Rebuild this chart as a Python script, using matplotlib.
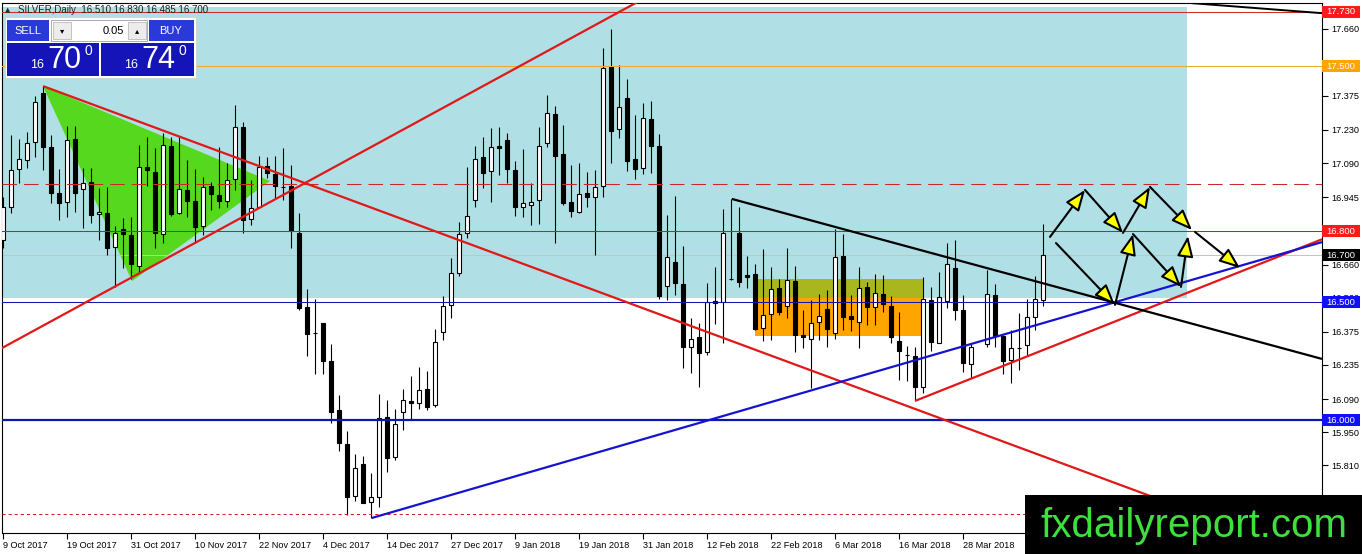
import matplotlib
matplotlib.use('Agg')
import matplotlib.pyplot as plt
from matplotlib.patches import Rectangle, Polygon, FancyArrowPatch
import matplotlib.transforms as mtransforms
import numpy as np

plt.rcParams['font.family'] = ['Liberation Sans', 'DejaVu Sans']
plt.rcParams['lines.scale_dashes'] = False

W, H, DPI = 1362, 554, 100
nan = float('nan')

# ---------------- data (daily OHLC, SILVER) ----------------
open_ = [16.764, 16.904, 17.065, 17.103, 17.179, 17.387, 17.158, 16.963, 16.925, 17.192,
         16.980, 17.010, 16.874, 16.878, 16.734, 16.811, 16.785, 16.654, 17.073, 17.052,
         16.789, 17.162, 16.878, 16.976, 16.929, 16.823, 16.993, 16.955, 16.929, 17.023,
         17.243, 16.853, 16.904, 17.078, 17.044, 16.989, 16.993, 16.794, 16.480, 16.370,
         16.412, 16.251, 16.044, 15.900, 15.679, 15.815, 15.654, 15.675, 16.014, 15.844,
         16.035, 16.082, 16.073, 16.133, 16.065, 16.374, 16.489, 16.624, 16.794, 16.934,
         17.116, 17.056, 17.162, 17.188, 17.061, 16.904, 16.912, 16.934, 17.175, 17.298,
         17.128, 16.925, 16.883, 16.963, 16.946, 16.993, 17.497, 17.234, 17.366, 17.107,
         17.069, 17.277, 17.162, 16.569, 16.671, 16.578, 16.311, 16.353, 16.289, 16.497,
         16.501, 16.600, 16.794, 16.616, 16.620, 16.391, 16.451, 16.561, 16.484, 16.590,
         16.361, 16.345, 16.417, 16.472, 16.370, 16.696, 16.442, 16.417, 16.565, 16.480,
         16.535, 16.484, 16.336, 16.277, 16.273, 16.141, 16.510, 16.328, 16.506, 16.645,
         16.467, 16.239, nan, 16.323, 16.531, 16.357, 16.256, 16.306, 16.319, 16.438,
         16.510]
high = [16.946, 17.209, 17.192, 17.221, 17.374, 17.416, 17.209, 17.065, 17.247, 17.247,
        17.069, 17.069, 16.984, 16.989, 16.823, 16.857, 16.861, 17.167, 17.200, 17.154,
        17.217, 17.200, 17.200, 17.103, 17.065, 17.031, 17.010, 17.158, 17.090, 17.336,
        17.264, 17.018, 17.120, 17.116, 17.120, 17.154, 17.082, 16.878, 16.556, 16.514,
        16.412, 16.323, 16.107, 15.955, 15.857, 15.849, 15.777, 16.111, 16.086, 16.048,
        16.133, 16.188, 16.226, 16.209, 16.387, 16.527, 16.688, 16.840, 17.073, 17.162,
        17.200, 17.238, 17.243, 17.217, 17.099, 17.150, 17.006, 17.243, 17.378, 17.332,
        17.251, 17.082, 17.090, 17.052, 17.061, 17.577, 17.658, 17.505, 17.446, 17.293,
        17.344, 17.353, 17.213, 16.870, 16.951, 16.739, 16.434, 16.412, 16.582, 16.650,
        16.895, 16.938, 16.904, 16.696, 16.662, 16.726, 16.650, 16.599, 16.730, 16.654,
        16.467, 16.510, 16.535, 16.552, 16.811, 16.789, 16.531, 16.650, 16.586, 16.620,
        16.616, 16.527, 16.459, 16.315, 16.311, 16.607, 16.565, 16.628, 16.751, 16.764,
        16.531, 16.328, nan, 16.637, 16.578, 16.361, 16.383, 16.455, 16.514, 16.611,
        16.830]
low = [16.730, 16.878, 17.006, 17.069, 17.116, 17.061, 16.921, 16.849, 16.861, 16.883,
       16.815, 16.836, 16.764, 16.700, 16.565, 16.645, 16.599, 16.624, 16.993, 16.730,
       16.751, 16.866, 16.874, 16.861, 16.751, 16.785, 16.891, 16.900, 16.904, 16.976,
       16.794, 16.828, 16.900, 17.027, 16.942, 16.934, 16.730, 16.467, 16.273, 16.196,
       16.196, 15.989, 15.870, 15.599, 15.658, 15.650, 15.586, 15.633, 15.781, 15.832,
       15.959, 16.006, 16.048, 16.044, 16.056, 16.340, 16.434, 16.611, 16.772, 16.904,
       16.984, 16.925, 17.040, 17.006, 16.866, 16.861, 16.828, 16.832, 17.158, 16.751,
       16.912, 16.861, 16.878, 16.904, 16.700, 16.946, 17.090, 17.196, 17.056, 17.023,
       17.044, 17.048, 16.514, 16.510, 16.531, 16.222, 16.200, 16.141, 16.277, 16.408,
       16.328, 16.594, 16.565, 16.561, 16.383, 16.336, 16.340, 16.446, 16.434, 16.289,
       16.306, 16.137, 16.340, 16.311, 16.345, 16.383, 16.378, 16.306, 16.404, 16.404,
       16.459, 16.328, 16.171, 16.167, 16.086, 16.116, 16.294, 16.326, 16.476, 16.425,
       16.205, 16.179, nan, 16.311, 16.311, 16.196, 16.158, 16.213, 16.277, 16.383,
       16.485]
close = [16.904, 17.061, 17.107, 17.175, 17.349, 17.158, 16.963, 16.921, 17.188, 16.963,
         17.006, 16.870, 16.883, 16.730, 16.794, 16.789, 16.662, 17.073, 17.061, 16.794,
         17.167, 16.874, 16.980, 16.929, 16.819, 16.989, 16.959, 16.929, 17.018, 17.243,
         16.849, 16.900, 17.073, 17.048, 16.993, 16.987, 16.802, 16.476, 16.366, 16.368,
         16.251, 16.035, 15.904, 15.675, 15.798, 15.650, 15.675, 16.010, 15.840, 15.984,
         16.086, 16.073, 16.128, 16.056, 16.332, 16.484, 16.624, 16.789, 16.866, 17.107,
         17.048, 17.158, 17.154, 17.065, 16.904, 16.921, 16.925, 17.162, 17.302, 17.120,
         16.921, 16.887, 16.959, 16.946, 16.989, 17.493, 17.226, 17.327, 17.099, 17.065,
         17.281, 17.162, 16.527, 16.692, 16.582, 16.311, 16.345, 16.285, 16.501, 16.506,
         16.794, 16.600, 16.586, 16.607, 16.387, 16.446, 16.556, 16.459, 16.594, 16.361,
         16.353, 16.412, 16.442, 16.387, 16.692, 16.438, 16.429, 16.561, 16.480, 16.539,
         16.493, 16.353, 16.294, 16.275, 16.141, 16.514, 16.332, 16.522, 16.662, 16.467,
         16.243, 16.311, nan, 16.535, 16.357, 16.251, 16.306, 16.306, 16.438, 16.514,
         16.700]

date_tick_idx = list(range(0, 121, 8))
date_labels = ['9 Oct 2017', '19 Oct 2017', '31 Oct 2017', '10 Nov 2017', '22 Nov 2017',
               '4 Dec 2017', '14 Dec 2017', '27 Dec 2017', '9 Jan 2018', '19 Jan 2018',
               '31 Jan 2018', '12 Feb 2018', '22 Feb 2018', '6 Mar 2018', '16 Mar 2018',
               '28 Mar 2018']
price_ticks = [17.660, 17.515, 17.375, 17.230, 17.090, 16.945, 16.805, 16.660, 16.520,
               16.375, 16.235, 16.090, 15.950, 15.810, 15.665]
# labels fully hidden behind the level boxes in the reference are left blank
price_tick_labels = ['17.660', '', '17.375', '17.230', '17.090', '16.945', '', '16.660',
                     '16.520', '16.375', '16.235', '16.090', '15.950', '15.810', '15.665']

# horizontal levels: price, colour, width, style
levels = [(17.730, '#d42a2a', 0.75, '-'), (17.500, '#e9ac2c', 0.75, '-'),
          (17.000, '#c82828', 0.75, 'dash'), (16.800, '#d01e1e', 0.75, '-'),
          (16.500, '#1414b0', 0.75, '-'), (16.000, '#0c18aa', 1.6, '-'),
          (15.603, '#d02020', 0.75, 'dot')]
bid_price = 16.700
# axis price labels: price, box colour, text colour
price_boxes = [(17.730, '#ff1a1a', 'white'), (17.500, '#ffa500', 'white'),
               (16.800, '#ff1a1a', 'white'), (16.700, '#000000', 'white'),
               (16.500, '#1010ff', 'white'), (16.000, '#1010ff', 'white')]

# drawn objects (bar index, price)
zone_x = (-1.0, 148.0); zone_y = (16.518, 17.751)
range_x = (94.0, 115.0); range_y = (16.357, 16.599)
triangle = [(5.0, 17.416), (16.125, 16.590), (33.375, 17.014)]
trend_lines = [
    ([5.0, 160.0], [17.416, 15.471], '#e01818', 1.6),
    ([-1.0, 82.0], [16.290, 17.822], '#e01818', 1.6),
    ([114.0, 164.875], [16.082, 16.767], '#e01818', 1.6),
    ([46.1, 164.875], [15.586, 16.755], '#1414d0', 1.6),
    ([91.1, 164.875], [16.938, 16.260], '#000000', 1.6),
    ([148.4, 164.875], [17.768, 17.725], '#000000', 1.4),
]
arrows = [
    ((130.875, 16.777), (135.25, 16.976)),
    ((135.25, 16.976), (140.0, 16.794)),
    ((140.0, 16.794), (143.375, 16.989)),
    ((143.375, 16.989), (148.625, 16.806)),
    ((149.0, 16.798), (154.625, 16.645)),
    ((131.625, 16.751), (139.0, 16.489)),
    ((139.0, 16.489), (141.25, 16.789)),
    ((141.25, 16.789), (147.25, 16.565)),
    ((147.25, 16.565), (148.125, 16.781)),
]

# ---------------- figure ----------------
fig = plt.figure(figsize=(W / DPI, H / DPI), dpi=DPI, facecolor='white')
ax = fig.add_axes([2 / W, (H - 533) / H, 1320 / W, 530 / H])
ax.set_facecolor('white')
ax.set_xlim(-0.125, 164.875)
ax.set_ylim(15.5224, 17.7681)

o = np.array(open_); h = np.array(high); l = np.array(low); c = np.array(close)
x = np.arange(len(o))
ok = ~np.isnan(o)
up = ok & (c >= o)
dn = ok & (c < o)

# background objects
ax.add_patch(Rectangle((zone_x[0], zone_y[0]), zone_x[1] - zone_x[0], zone_y[1] - zone_y[0],
                       fc='#b0dfe5', ec='none', zorder=1))
ax.add_patch(Rectangle((range_x[0], range_y[0]), range_x[1] - range_x[0], range_y[1] - range_y[0],
                       fc='#ffa500', ec='none', zorder=1.5))
ax.add_patch(Rectangle((range_x[0], zone_y[0]), range_x[1] - range_x[0], range_y[1] - zone_y[0],
                       fc='#aab61e', ec='none', zorder=1.6))
ax.add_patch(Polygon(triangle, closed=True, fc='#55d81e', ec='none', zorder=2))

ax.axhline(bid_price, color='#c4c4c4', lw=0.75, zorder=2.5)

# candles
ax.vlines(x[ok], l[ok], h[ok], color='black', lw=0.8, zorder=4)
bw = 0.56
ax.bar(x[up], (c - o)[up], bottom=o[up], width=bw, color='white', edgecolor='black',
       linewidth=0.8, zorder=5)
ax.bar(x[dn], (o - c)[dn], bottom=c[dn], width=bw, color='black', edgecolor='black',
       linewidth=0.8, zorder=5)

# horizontal levels
for p, col, lw, st in levels:
    if st == 'dash':
        ax.axhline(p, color=col, lw=lw, dashes=(10.5, 5.0), zorder=6)
    elif st == 'dot':
        ax.axhline(p, color=col, lw=lw, dashes=(2.2, 2.2), zorder=6)
    else:
        ax.axhline(p, color=col, lw=lw, zorder=6)

# trend lines
for xs, ys, col, lw in trend_lines:
    ax.plot(xs, ys, color=col, lw=lw, zorder=7, solid_capstyle='butt')

# arrows
for (x0, y0), (x1, y1) in arrows:
    ax.add_patch(FancyArrowPatch((x0, y0), (x1, y1),
                                 arrowstyle='-|>,head_length=1.15,head_width=0.45',
                                 mutation_scale=11, fc='#ffff00', ec='black', lw=1.5,
                                 shrinkA=0, shrinkB=0, zorder=8))

# axes styling
for s in ax.spines.values():
    s.set_color('black'); s.set_linewidth(0.8)
ax.yaxis.tick_right()
ax.set_yticks(price_ticks)
ax.set_yticklabels(price_tick_labels)
ax.tick_params(axis='y', length=4, width=0.8, pad=3, labelsize=6.6, colors='black')
ax.set_xticks(date_tick_idx)
ax.set_xticklabels(date_labels)
ax.tick_params(axis='x', length=4, width=0.8, pad=2, labelsize=6.6)
for t in ax.get_xticklabels():
    t.set_ha('left')

# price boxes on right axis
trans = mtransforms.blended_transform_factory(ax.transAxes, ax.transData)
bh = 12 / 236
for p, fc, tc in price_boxes:
    ax.add_patch(Rectangle((1.0, p - bh / 2), 38 / 1320, bh, transform=trans, fc=fc,
                           ec='none', clip_on=False, zorder=20))
    ax.text(1.0 + 4 / 1320, p, f'{p:.3f}', transform=trans, color=tc, fontsize=6.8,
            va='center', ha='left', zorder=21, clip_on=False)

# ---------------- overlays in figure pixels ----------------
def px_rect(x0, y0, x1, y1, **kw):
    fig.add_artist(Rectangle((x0 / W, 1 - y1 / H), (x1 - x0) / W, (y1 - y0) / H,
                             transform=fig.transFigure, **kw))

def px_text(xp, yp, s, **kw):
    fig.text(xp / W, 1 - yp / H, s, **kw)

# symbol header
px_text(5, 10, '\u25b2', fontsize=5, color='#303030', va='center', ha='left',
        family=['DejaVu Sans'], zorder=30)
px_text(18, 10, 'SILVER,Daily  16.510 16.830 16.485 16.700', fontsize=7, color='#202020',
        va='center', ha='left', zorder=30)

# one-click trading panel
px_rect(5, 17, 196, 78, fc='white', ec='#d0d0d0', lw=0.6, zorder=30)
px_rect(7, 20, 49, 41, fc='#2a3ad8', ec='none', zorder=31)
px_text(28, 30.5, 'SELL', fontsize=8, color='white', va='center', ha='center', zorder=32)
px_rect(149, 20, 194, 41, fc='#2a3ad8', ec='none', zorder=31)
px_text(171, 30.5, 'BUY', fontsize=8, color='white', va='center', ha='center', zorder=32)
px_rect(51, 20, 147, 41, fc='white', ec='#a0a0a0', lw=0.6, zorder=31)
px_rect(53, 22, 71, 39, fc='#ececec', ec='#b0b0b0', lw=0.5, zorder=32)
px_rect(128, 22, 146, 39, fc='#ececec', ec='#b0b0b0', lw=0.5, zorder=32)
px_text(62, 30.5, '\u25be', fontsize=6, color='black', va='center', ha='center',
        family=['DejaVu Sans'], zorder=33)
px_text(137, 30.5, '\u25b4', fontsize=6, color='black', va='center', ha='center',
        family=['DejaVu Sans'], zorder=33)
px_text(124, 30.5, '0.05', fontsize=8, color='black', va='center', ha='right', zorder=33)
for xa, xb, big in [(7, 99, '70'), (101, 194, '74')]:
    px_rect(xa, 43, xb, 76, fc='#1414b8', ec='none', zorder=31)
    px_text(xa + 30, 65, '16', fontsize=9, color='white', va='center', ha='center', zorder=32)
    px_text(xa + 57, 60, big, fontsize=22, color='white', va='center', ha='center', zorder=32)
    px_text(xa + 81, 51, '0', fontsize=10, color='white', va='center', ha='center', zorder=32)

# watermark
px_rect(1025, 495, W + 1, H + 1, fc='black', ec='none', zorder=40)
px_text(1194, 537, 'fxdailyreport.com', fontsize=29, color='#3ee03e', va='baseline',
        ha='center', zorder=41)

fig.savefig('out.png', dpi=DPI, facecolor='white')
